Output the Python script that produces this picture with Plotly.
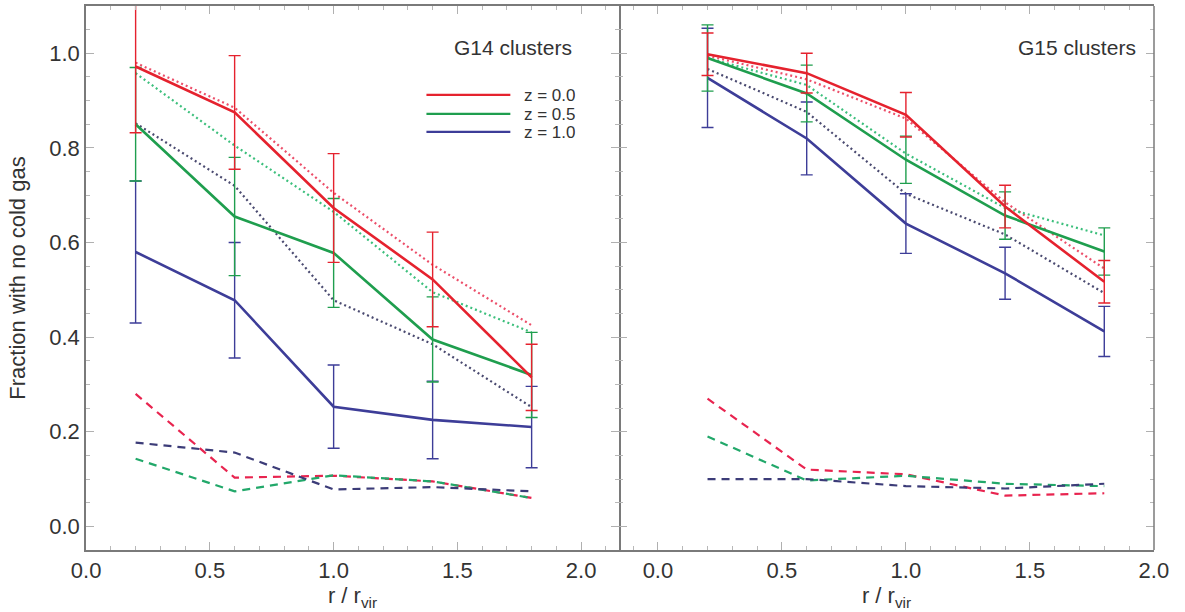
import plotly.graph_objects as go

r = [0.2, 0.6, 1.0, 1.4, 1.8]

# ---- G14 clusters (left panel) ----
g14_solid_z00 = [0.972, 0.875, 0.673, 0.522, 0.315]
g14_solid_z05 = [0.850, 0.655, 0.578, 0.395, 0.320]
g14_solid_z10 = [0.580, 0.478, 0.253, 0.225, 0.210]
g14_err_z00 = [0.140, 0.120, 0.115, 0.100, 0.070]
g14_err_z05 = [0.120, 0.125, 0.115, 0.090, 0.090]
g14_err_z10 = [0.150, 0.122, 0.088, 0.082, 0.086]
g14_dot_z00 = [0.980, 0.885, 0.705, 0.553, 0.425]
g14_dot_z05 = [0.958, 0.805, 0.665, 0.495, 0.410]
g14_dot_z10 = [0.852, 0.720, 0.478, 0.385, 0.252]
g14_dash_z00 = [0.280, 0.103, 0.107, 0.095, 0.060]
g14_dash_z05 = [0.143, 0.074, 0.108, 0.095, 0.060]
g14_dash_z10 = [0.177, 0.156, 0.078, 0.083, 0.074]

# ---- G15 clusters (right panel) ----
g15_solid_z00 = [0.998, 0.958, 0.870, 0.676, 0.517]
g15_solid_z05 = [0.990, 0.915, 0.775, 0.657, 0.581]
g15_solid_z10 = [0.948, 0.820, 0.640, 0.535, 0.412]
g15_err_z00 = [0.045, 0.042, 0.047, 0.045, 0.045]
g15_err_z05 = [0.070, 0.060, 0.050, 0.050, 0.050]
g15_err_z10 = [0.105, 0.077, 0.063, 0.055, 0.053]
g15_dot_z00 = [0.995, 0.945, 0.862, 0.685, 0.545]
g15_dot_z05 = [0.990, 0.933, 0.788, 0.673, 0.615]
g15_dot_z10 = [0.967, 0.876, 0.703, 0.617, 0.493]
g15_dash_z00 = [0.270, 0.120, 0.110, 0.065, 0.070]
g15_dash_z05 = [0.190, 0.097, 0.107, 0.090, 0.085]
g15_dash_z10 = [0.100, 0.100, 0.085, 0.080, 0.090]

legend_labels = ["z = 0.0", "z = 0.5", "z = 1.0"]
panel_titles = ["G14 clusters", "G15 clusters"]

c_solid = ["#e5222e", "#1f9e4e", "#3d3d98"]
c_dot = ["#ec4f6a", "#3cbf7c", "#4a4a70"]
c_dash = ["#e8244f", "#22a86a", "#3c3c78"]

FONT = "Liberation Sans, Arial, sans-serif"

fig = go.Figure()

panels = [
    ("x", "y", [g14_solid_z00, g14_solid_z05, g14_solid_z10],
     [g14_err_z00, g14_err_z05, g14_err_z10],
     [g14_dot_z00, g14_dot_z05, g14_dot_z10],
     [g14_dash_z00, g14_dash_z05, g14_dash_z10]),
    ("x2", "y2", [g15_solid_z00, g15_solid_z05, g15_solid_z10],
     [g15_err_z00, g15_err_z05, g15_err_z10],
     [g15_dot_z00, g15_dot_z05, g15_dot_z10],
     [g15_dash_z00, g15_dash_z05, g15_dash_z10]),
]

for xa, ya, solids, errs, dots, dashes in panels:
    for i in range(3):
        fig.add_trace(go.Scatter(x=r, y=dashes[i], mode="lines", xaxis=xa, yaxis=ya,
                                 line=dict(color=c_dash[i], width=2.2, dash="8px,6px"),
                                 showlegend=False, hoverinfo="skip"))
    for i in range(3):
        fig.add_trace(go.Scatter(x=r, y=dots[i], mode="lines", xaxis=xa, yaxis=ya,
                                 line=dict(color=c_dot[i], width=2.2, dash="2px,3px"),
                                 showlegend=False, hoverinfo="skip"))
    # solid: draw z=1.0 first, z=0.0 last (on top)
    for i in [2, 1, 0]:
        fig.add_trace(go.Scatter(x=r, y=solids[i], mode="lines", xaxis=xa, yaxis=ya,
                                 line=dict(color=c_solid[i], width=2.6),
                                 error_y=dict(type="data", array=errs[i], visible=True,
                                              color=c_solid[i], thickness=1.4, width=6),
                                 showlegend=False, hoverinfo="skip"))

LINEC = "#7a7a7a"
axis_common = dict(
    linecolor=LINEC, linewidth=1.5, mirror="allticks",
    ticks="inside", ticklen=8, tickwidth=1, tickcolor="#b0b0b0",
    showgrid=False, zeroline=False,
    tickfont=dict(family=FONT, size=22, color="#333333"),
)

xminor = dict(dtick=0.1, ticklen=4, tickcolor="#b8b8b8", ticks="inside", showgrid=False)
yminor = dict(dtick=0.05, ticklen=4, tickcolor="#b8b8b8", ticks="inside", showgrid=False)

split = 533 / 1068
title_font = dict(family=FONT, size=22, color="#333")

fig.update_layout(
    width=1185, height=612,
    margin=dict(l=86, r=31, t=4, b=62),
    paper_bgcolor="white", plot_bgcolor="white",
    showlegend=False,
    xaxis=dict(domain=[0, split], range=[-0.0005, 2.153], tick0=0, dtick=0.5,
               tickformat=".1f", minor=xminor, showline=True,
               title=dict(text="r / r<sub>vir</sub>", font=title_font, standoff=2),
               **axis_common),
    xaxis2=dict(domain=[split, 1], range=[-0.157, 2.0005], tick0=0, dtick=0.5,
                tickformat=".1f", minor=xminor, anchor="y2", showline=True,
                title=dict(text="r / r<sub>vir</sub>", font=title_font, standoff=2),
                **axis_common),
    yaxis=dict(range=[-0.05, 1.1], tick0=0, dtick=0.2, tickformat=".1f", minor=yminor,
               showline=True,
               title=dict(text="Fraction with no cold gas", font=title_font, standoff=18),
               **axis_common),
    yaxis2=dict(range=[-0.05, 1.1], tick0=0, dtick=0.2, minor=yminor, anchor="x2",
                showline=False, showticklabels=False, **axis_common),
)

# right edge frame line of the right panel (left edge shared with left panel)
fig.add_shape(type="line", xref="x2 domain", yref="y2 domain", x0=1, x1=1, y0=0, y1=1,
              line=dict(color=LINEC, width=1.5))

# panel titles
fig.add_annotation(x=1.726, y=1.013, xref="x", yref="y", text=panel_titles[0],
                   showarrow=False, font=dict(family=FONT, size=21, color="#333"))
fig.add_annotation(x=1.69, y=1.013, xref="x2", yref="y2", text=panel_titles[1],
                   showarrow=False, font=dict(family=FONT, size=21, color="#333"))

# legend (left panel)
leg_y = [0.912, 0.872, 0.834]
for i in range(3):
    fig.add_shape(type="line", xref="x", yref="y", x0=1.375, x1=1.714,
                  y0=leg_y[i], y1=leg_y[i], line=dict(color=c_solid[i], width=2.2))
    fig.add_annotation(x=1.76, y=leg_y[i], xref="x", yref="y", text=legend_labels[i],
                       xanchor="left", showarrow=False, height=18, valign="middle",
                       font=dict(family=FONT, size=17, color="#333"))

fig.write_html("out.html")
